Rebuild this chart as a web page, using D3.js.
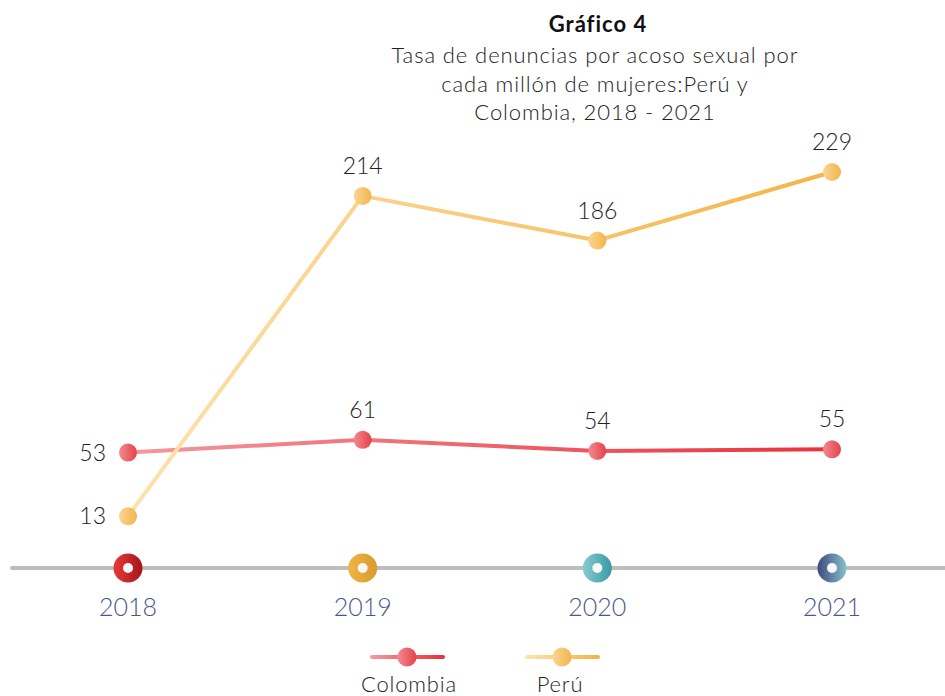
<!DOCTYPE html>
<html>
<head>
<meta charset="utf-8">
<script src="https://cdn.jsdelivr.net/npm/d3@7"></script>
<style>
  body { margin: 0; background: #fff; }
  svg { display: block; font-family: Lato, "Open Sans", sans-serif; }
</style>
</head>
<body>
<div id="chart"></div>
<script>
const years = ["2018", "2019", "2020", "2021"];
const colombia = [53, 61, 54, 55];
const peru = [13, 214, 186, 229];
const yearColors = [["#e8383a", "#a51618"], ["#f2b544", "#d99a2e"], ["#86cad2", "#3a9aa4"], ["#3d4a7c", "#86c0cc"]];

const width = 945, height = 696;

const svg = d3.select("#chart").append("svg")
    .attr("width", width)
    .attr("height", height);

const defs = svg.append("defs");

function hGrad(id, c1, c2, user) {
    const g = defs.append("linearGradient").attr("id", id);
    if (user) {
        g.attr("gradientUnits", "userSpaceOnUse")
            .attr("x1", -35).attr("x2", 36).attr("y1", 0).attr("y2", 0);
    } else {
        g.attr("x1", "0%").attr("x2", "100%").attr("y1", "0%").attr("y2", "0%");
    }
    g.append("stop").attr("offset", "0%").attr("stop-color", c1);
    g.append("stop").attr("offset", "100%").attr("stop-color", c2);
}
hGrad("colLine", "#f5979e", "#e8323c");
hGrad("peruLine", "#fde2ae", "#f4b446");
hGrad("colLineLeg", "#f5979e", "#e8323c", true);
hGrad("peruLineLeg", "#fde2ae", "#f4b446", true);
hGrad("colDot", "#f28a90", "#e6424a");
hGrad("peruDot", "#fbd590", "#f2b54e");
yearColors.forEach((c, i) => hGrad("year" + i, c[0], c[1]));

// Scales
const x = d3.scalePoint()
    .domain(years)
    .range([128, 832]);

const y = d3.scaleLinear()
    .domain([0, 229])
    .range([537, 172]);

// Title
svg.append("text")
    .attr("x", 598).attr("y", 32)
    .attr("text-anchor", "middle")
    .style("font-size", "22px")
    .style("font-weight", "bold")
    .style("letter-spacing", "1px")
    .style("fill", "#111")
    .text("Gráfico 4");

["Tasa de denuncias por acoso sexual por", "cada millón de mujeres:Perú y", "Colombia, 2018 - 2021"]
    .forEach((t, i) => {
        svg.append("text")
            .attr("x", 595).attr("y", 63 + i * 28.5)
            .attr("text-anchor", "middle")
            .style("font-size", "22px")
            .style("font-weight", "300")
            .style("letter-spacing", "0.9px")
            .style("fill", "#222")
            .text(t);
    });

// Baseline axis
svg.append("line")
    .attr("x1", 12).attr("x2", 945)
    .attr("y1", 568).attr("y2", 568)
    .attr("stroke", "#bdbdbd")
    .attr("stroke-width", 4)
    .attr("stroke-linecap", "round");

const ticks = svg.selectAll("g.tick")
    .data(years)
    .join("g")
    .attr("class", "tick")
    .attr("transform", d => `translate(${x(d)},568)`);

ticks.append("circle")
    .attr("r", 14.5)
    .attr("fill", (d, i) => `url(#year${i})`);

ticks.append("circle")
    .attr("r", 5)
    .attr("fill", "#f7f7f7");

ticks.append("text")
    .attr("y", 48)
    .attr("text-anchor", "middle")
    .style("font-size", "25px")
    .style("font-weight", "300")
    .style("fill", "#4a5888")
    .text(d => d);

// Series
const series = [
    { name: "Colombia", values: colombia, line: "colLine", dot: "colDot" },
    { name: "Perú", values: peru, line: "peruLine", dot: "peruDot" }
];

const lineGen = d3.line()
    .x((d, i) => x(years[i]))
    .y(d => y(d));

series.forEach(s => {
    svg.append("path")
        .datum(s.values)
        .attr("d", lineGen)
        .attr("fill", "none")
        .attr("stroke", `url(#${s.line})`)
        .attr("stroke-width", 4);
});

series.forEach(s => {
    svg.selectAll(null)
        .data(s.values)
        .join("circle")
        .attr("cx", (d, i) => x(years[i]))
        .attr("cy", d => y(d))
        .attr("r", 9)
        .attr("fill", `url(#${s.dot})`);

    svg.selectAll(null)
        .data(s.values)
        .join("text")
        .attr("x", (d, i) => i === 0 ? x(years[i]) - 22 : x(years[i]))
        .attr("y", (d, i) => i === 0 ? y(d) + 8 : y(d) - 22)
        .attr("text-anchor", (d, i) => i === 0 ? "end" : "middle")
        .style("font-size", "23px")
        .style("font-weight", "300")
        .style("fill", "#222")
        .text(d => d);
});

// Legend
const legendX = [407, 562];
series.forEach((s, i) => {
    const g = svg.append("g").attr("transform", `translate(${legendX[i]},657)`);
    g.append("line")
        .attr("x1", -35).attr("x2", 36)
        .attr("stroke", `url(#${s.line}Leg)`)
        .attr("stroke-width", 4)
        .attr("stroke-linecap", "round");
    g.append("circle")
        .attr("r", 9.5)
        .attr("fill", `url(#${s.dot})`);
    g.append("text")
        .attr("x", i === 0 ? 2 : -2)
        .attr("y", 35)
        .attr("text-anchor", "middle")
        .style("font-size", "22px")
        .style("font-weight", "300")
        .style("letter-spacing", "0.8px")
        .style("fill", "#222")
        .text(s.name);
});
</script>
</body>
</html>
